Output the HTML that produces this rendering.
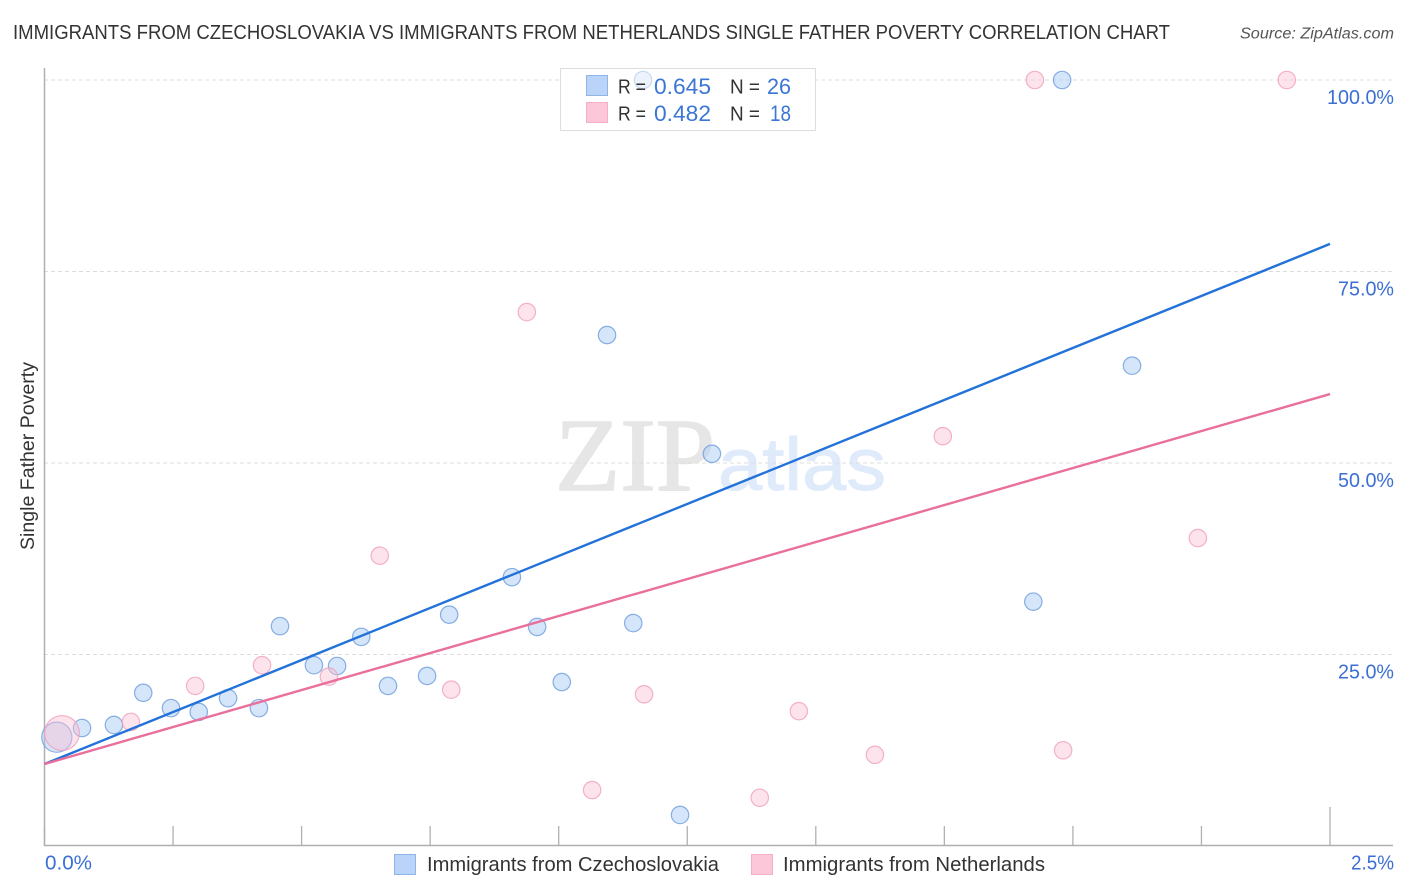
<!DOCTYPE html>
<html lang="en">
<head>
<meta charset="utf-8">
<title>Single Father Poverty Correlation Chart</title>
<style>
html,body{margin:0;padding:0;background:#fff;}
svg{display:block;font-family:"Liberation Sans",sans-serif;}
</style>
</head>
<body>
<svg id="chart" xmlns="http://www.w3.org/2000/svg" width="1406" height="892" viewBox="0 0 1406 892">
  <rect x="0" y="0" width="1406" height="892" fill="#ffffff"/>
  <text x="13" y="39" font-size="20" fill="#333333" textLength="1157" lengthAdjust="spacingAndGlyphs">IMMIGRANTS FROM CZECHOSLOVAKIA VS IMMIGRANTS FROM NETHERLANDS SINGLE FATHER POVERTY CORRELATION CHART</text>
  <text x="1394" y="38.500" font-size="15.500" font-style="italic" fill="#555555" text-anchor="end" textLength="154" lengthAdjust="spacingAndGlyphs">Source: ZipAtlas.com</text>
  <g>
    <text x="555" y="490" font-family="'Liberation Serif',serif" font-size="104" fill="#e6e6e6" stroke="#e6e6e6" stroke-width="1.6" textLength="160" lengthAdjust="spacingAndGlyphs">ZIP</text>
    <text x="718" y="490" font-size="74" fill="#dfeafb" stroke="#dfeafb" stroke-width="1" textLength="168" lengthAdjust="spacingAndGlyphs">atlas</text>
  </g>
  <g id="grid"></g>
  <rect x="560.500" y="68.500" width="255" height="62" fill="#ffffff" stroke="#dddddd" stroke-width="1"/>
  <g id="axes"></g>
  <g id="points"></g>
  <rect x="561" y="69" width="254" height="61" fill="#ffffff" fill-opacity="0.55"/>
  <g id="trends"></g>
  <text transform="translate(34,456) rotate(-90)" font-size="19" fill="#333333" text-anchor="middle" textLength="188" lengthAdjust="spacingAndGlyphs">Single Father Poverty</text>
  <g id="ylabels"></g>
  <text x="45" y="869.500" font-size="20" fill="#3b6fd4" textLength="47" lengthAdjust="spacingAndGlyphs">0.0%</text>
  <text x="1394" y="869.500" font-size="20" fill="#3b6fd4" text-anchor="end" textLength="43" lengthAdjust="spacingAndGlyphs">2.5%</text>
  <g>
    <rect x="586.500" y="75.500" width="21" height="20" fill="#b9d4f8" stroke="#8fb4e6" stroke-width="1"/>
    <rect x="586.500" y="102.500" width="21" height="20" fill="#fcc8d9" stroke="#f5aec6" stroke-width="1"/>
    <text x="618" y="93.500" font-size="20" fill="#333333" textLength="28" lengthAdjust="spacingAndGlyphs">R =</text>
    <text x="654" y="94" font-size="22" fill="#3b76d4" textLength="57" lengthAdjust="spacingAndGlyphs">0.645</text>
    <text x="730" y="93.500" font-size="20" fill="#333333" textLength="30" lengthAdjust="spacingAndGlyphs">N =</text>
    <text x="767" y="94" font-size="22" fill="#3b76d4" textLength="24" lengthAdjust="spacingAndGlyphs">26</text>
    <text x="618" y="120.500" font-size="20" fill="#333333" textLength="28" lengthAdjust="spacingAndGlyphs">R =</text>
    <text x="654" y="121" font-size="22" fill="#3b76d4" textLength="57" lengthAdjust="spacingAndGlyphs">0.482</text>
    <text x="730" y="120.500" font-size="20" fill="#333333" textLength="30" lengthAdjust="spacingAndGlyphs">N =</text>
    <text x="770" y="121" font-size="22" fill="#3b76d4" textLength="21" lengthAdjust="spacingAndGlyphs">18</text>
  </g>
  <g>
    <rect x="394.500" y="854.500" width="21" height="20" fill="#b9d4f8" stroke="#8fb4e6" stroke-width="1"/>
    <text x="427" y="871" font-size="20" fill="#333333" textLength="292" lengthAdjust="spacingAndGlyphs">Immigrants from Czechoslovakia</text>
    <rect x="751.500" y="854.500" width="21" height="20" fill="#fcc8d9" stroke="#f5aec6" stroke-width="1"/>
    <text x="783" y="871" font-size="20" fill="#333333" textLength="262" lengthAdjust="spacingAndGlyphs">Immigrants from Netherlands</text>
  </g>
</svg>
<script>
const blueX = [0.024,0.073,0.135,0.192,0.246,0.300,0.357,0.417,0.458,0.524,0.569,0.616,0.668,0.744,0.787,0.909,0.958,1.006,1.094,1.145,1.164,1.236,1.298,1.923,1.979,2.115];
const blueY = [14.2,15.4,15.8,20.0,18.0,17.5,19.3,18.0,28.7,23.6,23.5,27.3,20.9,22.2,30.2,35.1,28.6,21.4,66.7,29.1,100,4.05,51.2,31.9,100,62.7];
const blueWeight = [3,1,1,1,1,1,1,1,1,1,1,1,1,1,1,1,1,1,1,1,1,1,1,1,1,1];
const pinkX = [0.034,0.168,0.293,0.423,0.553,0.652,0.791,0.938,1.065,1.166,1.391,1.467,1.615,1.747,1.926,1.981,2.243,2.416];
const pinkY = [14.75,16.2,20.9,23.6,22.1,37.9,20.4,69.7,7.3,19.8,6.3,17.6,11.9,53.5,100,12.5,40.2,100];
const pinkWeight = [4,1,1,1,1,1,1,1,1,1,1,1,1,1,1,1,1,1];
const blueTrend = [10.7,78.6];
const pinkTrend = [10.7,59.0];
const trendX = [0,2.5];
const yTicks = [100,75,50,25];
const yTickLabels = ['100.0%','75.0%','50.0%','25.0%'];
const xTicks = [0,0.25,0.5,0.75,1,1.25,1.5,1.75,2,2.25,2.5];

const NS = 'http://www.w3.org/2000/svg';
function xScale(v){ return 44.5 + v * 514.2; }
function yScale(v){ return 846 - v * 7.66; }
function make(parent, tag, attrs){
  const el = document.createElementNS(NS, tag);
  for (const k in attrs) el.setAttribute(k, attrs[k]);
  parent.appendChild(el);
  return el;
}

const gridG = document.getElementById('grid');
yTicks.forEach(function(t){
  const line = make(gridG, 'line', {x1:44, x2:1393, y1:yScale(t), y2:yScale(t), stroke:'#dcdcdc', 'stroke-width':1, 'stroke-dasharray':'4 3'});
  
  
});

const axesG = document.getElementById('axes');
const yAxis = make(axesG, 'line', {x1:44.5, x2:44.5, y1:68, y2:846, stroke:'#b0b0b0', 'stroke-width':1.5});


const xAxis = make(axesG, 'line', {x1:44, x2:1393, y1:845.5, y2:845.5, stroke:'#b0b0b0', 'stroke-width':1.5});


xTicks.forEach(function(t, i){
  const isLast = i === xTicks.length - 1;
  const tick = make(axesG, 'line', {x1:xScale(t), x2:xScale(t), y1:isLast ? 807 : 826, y2:846, stroke:'#b0b0b0', 'stroke-width':1.3});
  
  
});

const pointsG = document.getElementById('points');
function drawSeries(xs, ys, weights, fill, fillOpacity, stroke, name){
  xs.forEach(function(v, i){
    const c = make(pointsG, 'circle', {cx:xScale(v), cy:yScale(ys[i]), r:8.7 * Math.sqrt(weights[i]), fill:fill, 'fill-opacity':fillOpacity, stroke:stroke, 'stroke-width':1.2, 'stroke-opacity':0.8});
    
    
  });
}
drawSeries(blueX, blueY, blueWeight, '#a8c9f5', 0.48, '#6d9cdc', 'point-czechoslovakia');
drawSeries(pinkX, pinkY, pinkWeight, '#fbc2d4', 0.45, '#f0a0ba', 'point-netherlands');

const trendsG = document.getElementById('trends');
const trendBlue = make(trendsG, 'line', {x1:xScale(trendX[0]), y1:yScale(blueTrend[0]), x2:xScale(trendX[1]), y2:yScale(blueTrend[1]), stroke:'#2272d9', 'stroke-width':2.4});


const trendPink = make(trendsG, 'line', {x1:xScale(trendX[0]), y1:yScale(pinkTrend[0]), x2:xScale(trendX[1]), y2:yScale(pinkTrend[1]), stroke:'#e96f9c', 'stroke-width':2.4});



const yLabelG = document.getElementById('ylabels');
yTicks.forEach(function(t, i){
  const label = make(yLabelG, 'text', {x:1394, y:yScale(t) + 24, 'font-size':20, fill:'#3b6fd4', 'text-anchor':'end', textLength: i === 0 ? 67 : 56, lengthAdjust:'spacingAndGlyphs'});
  label.textContent = yTickLabels[i];
  
  
});
</script>
</body>
</html>
